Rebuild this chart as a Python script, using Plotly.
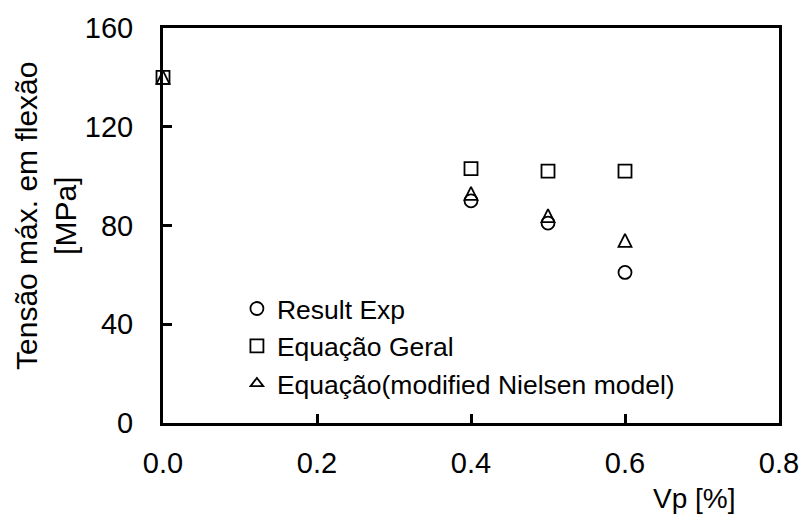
import plotly.graph_objects as go

# Flexural strength vs. particle volume fraction
vp_exp = [0.4, 0.5, 0.6]
result_exp = [90, 81, 61]

vp_model = [0.0, 0.4, 0.5, 0.6]
equacao_geral = [140, 103, 102, 102]
nielsen_mod = [140, 93, 84, 74]

x_ticks = [0.0, 0.2, 0.4, 0.6, 0.8]
y_ticks = [0, 40, 80, 120, 160]

FONT = "Liberation Sans, Arial, sans-serif"
BLACK = "#000000"
MS = 13  # marker size in px

fig = go.Figure()

fig.add_trace(go.Scatter(
    x=vp_exp, y=result_exp, mode="markers", name="Result Exp",
    legendgroup="a", cliponaxis=False,
    marker=dict(symbol="circle-open", size=MS, color=BLACK, line=dict(width=1.8, color=BLACK)),
))
fig.add_trace(go.Scatter(
    x=vp_model, y=equacao_geral, mode="markers", name="Equação Geral",
    legendgroup="b", cliponaxis=False,
    marker=dict(symbol="square-open", size=MS, color=BLACK, line=dict(width=1.8, color=BLACK)),
))
# equilateral-looking open triangle, centred on the point
fig.add_trace(go.Scatter(
    x=vp_model, y=nielsen_mod, mode="markers", name="Equação(modified Nielsen model)",
    legendgroup="c", cliponaxis=False, showlegend=False,
    marker=dict(symbol="arrow-down-open", angle=180, standoff=MS / 2, size=MS,
                color=BLACK, line=dict(width=1.8, color=BLACK)),
))
# legend entry for the triangle series (no points of its own)
fig.add_trace(go.Scatter(
    x=[None], y=[None], mode="markers", name="Equação(modified Nielsen model)",
    legendgroup="c",
    marker=dict(symbol="triangle-up-open", size=11, color=BLACK,
                line=dict(width=1.8, color=BLACK)),
))

axis_common = dict(
    showline=True, linewidth=3, linecolor=BLACK, mirror=True,
    ticks="inside", ticklen=9, tickwidth=3, tickcolor=BLACK,
    showgrid=False, zeroline=False,
    tickfont=dict(family=FONT, size=29, color=BLACK),
)

fig.update_xaxes(
    range=[0, 0.8], tickvals=x_ticks, ticktext=[f"{v:.1f}" for v in x_ticks],
    ticklabelstandoff=12, **axis_common,
)
fig.update_yaxes(
    range=[0, 160], tickvals=y_ticks, ticktext=[str(v) for v in y_ticks],
    ticklabelstandoff=21, **axis_common,
)

# axis titles
fig.add_annotation(
    text="Tensão máx. em flexão<br>[MPa]", xref="paper", yref="paper",
    x=-0.189, y=0.523, xanchor="center", yanchor="middle", textangle=-90,
    showarrow=False, font=dict(family=FONT, size=30, color=BLACK),
)
fig.add_annotation(
    text="Vp [%]", xref="paper", yref="paper", x=0.862, y=-0.192,
    xanchor="center", yanchor="middle", showarrow=False,
    font=dict(family=FONT, size=28, color=BLACK),
)

fig.update_layout(
    width=811, height=521,
    margin=dict(l=163, r=25, t=21, b=98),
    paper_bgcolor="white", plot_bgcolor="white",
    font=dict(family=FONT, color=BLACK),
    showlegend=True,
    legend=dict(
        x=0.12, y=0.35, xanchor="left", yanchor="top",
        bgcolor="rgba(0,0,0,0)", borderwidth=0,
        font=dict(family=FONT, size=26.5, color=BLACK),
        traceorder="grouped", tracegroupgap=0,
        itemwidth=30,
    ),
)

fig.write_html("out.html")
